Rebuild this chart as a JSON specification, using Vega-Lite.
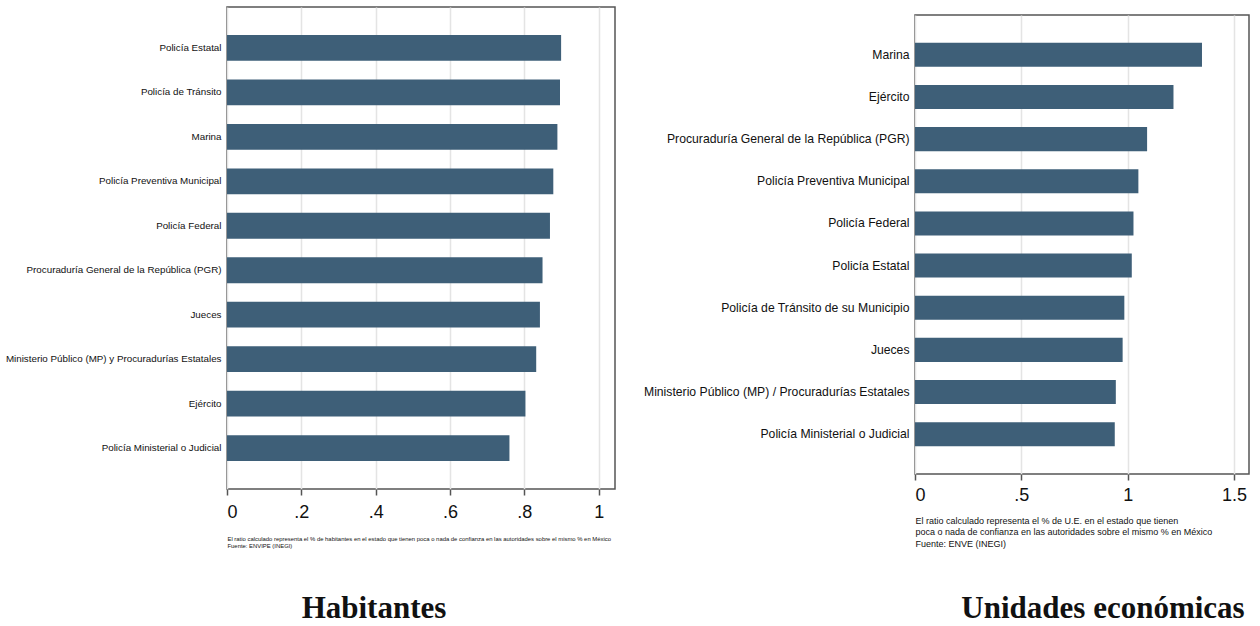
{
  "$schema": "https://vega.github.io/schema/vega-lite/v6.json",
  "background": "white",
  "padding": {"left": 4, "top": 6, "right": 0, "bottom": 0},
  "spacing": 26,
  "config": {
    "view": {"stroke": "#555555", "strokeWidth": 1.5},
    "axis": {"domain": false, "labelColor": "#111", "titleColor": "#111"},
    "title": {"font": "Liberation Serif", "fontWeight": "bold", "fontSize": 31, "color": "#111"}
  },
  "hconcat": [
    {
      "width": 388,
      "height": 482,
      "data": {"values": [
        {"autoridad": "Policía Estatal", "ratio": 0.899},
        {"autoridad": "Policía de Tránsito", "ratio": 0.896},
        {"autoridad": "Marina", "ratio": 0.889},
        {"autoridad": "Policía Preventiva Municipal", "ratio": 0.878},
        {"autoridad": "Policía Federal", "ratio": 0.869},
        {"autoridad": "Procuraduría General de la República (PGR)", "ratio": 0.849},
        {"autoridad": "Jueces", "ratio": 0.842},
        {"autoridad": "Ministerio Público (MP) y Procuradurías Estatales", "ratio": 0.832},
        {"autoridad": "Ejército", "ratio": 0.803},
        {"autoridad": "Policía Ministerial o Judicial", "ratio": 0.760}
      ]},
      "title": {"text": "Habitantes", "orient": "bottom", "frame": "group", "anchor": "middle", "dx": -47, "offset": 46},
      "mark": {"type": "bar", "color": "#3e5f78"},
      "encoding": {
        "y": {"field": "autoridad", "type": "nominal", "sort": "-x",
              "scale": {"paddingInner": 0.42, "paddingOuter": 0.63},
              "axis": {"title": null, "ticks": false, "labelPadding": 6, "labelFont": "Liberation Sans", "labelFontSize": 9.8, "labelLimit": 400}},
        "x": {"field": "ratio", "type": "quantitative",
              "scale": {"domain": [0, 1.044], "nice": false, "zero": true},
              "axis": {"values": [0, 0.2, 0.4, 0.6, 0.8, 1],
                       "labelExpr": "replace(format(datum.value, '.1~f'), '0.', '.')",
                       "labelFont": "Liberation Sans", "labelFontSize": 18, "labelPadding": 8,
                       "tickSize": 6, "tickWidth": 1.5, "tickColor": "#555",
                       "grid": true, "gridColor": "#e4e4e4", "gridWidth": 1.5,
                       "title": ["El ratio calculado representa el % de habitantes en el estado que tienen poca o nada de confianza en las autoridades sobre el mismo % en México", "Fuente: ENVIPE (INEGI)"],
                       "titleFont": "Liberation Sans", "titleFontSize": 5.9, "titleFontWeight": "normal", "titleLineHeight": 7,
                       "titleAnchor": "start", "titleAlign": "left", "titlePadding": 14}}
      }
    },
    {
      "spacing": 6,
      "vconcat": [
        {
          "width": 334,
          "height": 1,
          "view": {"stroke": null},
          "data": {"values": [{"ratio": 0}]},
          "mark": {"type": "tick", "opacity": 0},
          "encoding": {"x": {"field": "ratio", "type": "quantitative", "axis": null}}
        },
        {
          "width": 334,
          "height": 459,
          "data": {"values": [
            {"autoridad": "Marina", "ratio": 1.349},
            {"autoridad": "Ejército", "ratio": 1.215},
            {"autoridad": "Procuraduría General de la República (PGR)", "ratio": 1.091},
            {"autoridad": "Policía Preventiva Municipal", "ratio": 1.050},
            {"autoridad": "Policía Federal", "ratio": 1.027},
            {"autoridad": "Policía Estatal", "ratio": 1.019},
            {"autoridad": "Policía de Tránsito de su Municipio", "ratio": 0.984},
            {"autoridad": "Jueces", "ratio": 0.976},
            {"autoridad": "Ministerio Público (MP) / Procuradurías Estatales", "ratio": 0.944},
            {"autoridad": "Policía Ministerial o Judicial", "ratio": 0.939}
          ]},
          "title": {"text": "Unidades económicas", "orient": "bottom", "frame": "group", "anchor": "middle", "dx": 21, "offset": 46},
          "mark": {"type": "bar", "color": "#3e5f78"},
          "encoding": {
            "y": {"field": "autoridad", "type": "nominal", "sort": "-x",
                  "scale": {"paddingInner": 0.43, "paddingOuter": 0.66},
                  "axis": {"title": null, "ticks": false, "labelPadding": 6, "labelFont": "Liberation Sans", "labelFontSize": 12.2, "labelLimit": 400}},
            "x": {"field": "ratio", "type": "quantitative",
                  "scale": {"domain": [0, 1.57], "nice": false, "zero": true},
                  "axis": {"values": [0, 0.5, 1, 1.5],
                           "labelExpr": "replace(format(datum.value, '.1~f'), '0.', '.')",
                           "labelFont": "Liberation Sans", "labelFontSize": 18, "labelPadding": 6,
                           "tickSize": 6, "tickWidth": 1.5, "tickColor": "#555",
                           "grid": true, "gridColor": "#e4e4e4", "gridWidth": 1.5,
                           "title": ["El ratio calculado representa el % de U.E. en el estado que tienen", "poca o nada de confianza en las autoridades sobre el mismo % en México", "Fuente: ENVE (INEGI)"],
                           "titleFont": "Liberation Sans", "titleFontSize": 9, "titleFontWeight": "normal", "titleLineHeight": 11.5,
                           "titleAnchor": "start", "titleAlign": "left", "titlePadding": 12}}
          }
        }
      ]
    }
  ]
}
